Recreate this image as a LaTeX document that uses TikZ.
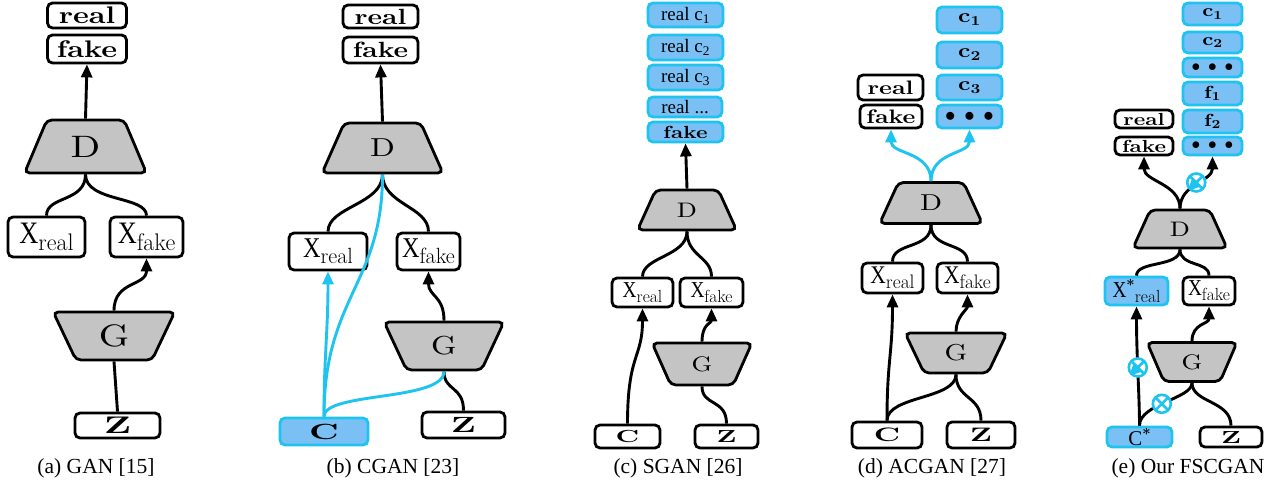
\documentclass[tikz,border=0pt]{standalone}
\usepackage{fontspec}
\usepackage{graphicx}
\usepackage{tikz}
\usetikzlibrary{shapes.geometric,arrows.meta}
\newfontfamily\lmw{lmroman10}[Extension=.otf, UprightFont=*-regular, BoldFont=*-bold, FakeStretch=1.25]
\newfontfamily\tms{Liberation Serif}
\definecolor{cyline}{RGB}{30,195,240}
\definecolor{cyfill}{RGB}{122,192,245}
\definecolor{netgray}{RGB}{196,196,196}
\newcommand\xlab[1]{\scalebox{1.1}[1.3]{\tms\mdseries X}\raisebox{-.28em}{\rmfamily\mdseries #1}}
\newcommand\xslab[1]{\scalebox{1.1}[1.3]{\tms\mdseries X}\raisebox{.45em}{\scalebox{.85}{\rmfamily *}}\raisebox{-.28em}{\rmfamily\mdseries #1}}
\newcommand\sclab[1]{\scalebox{1.3}[1]{#1}}
\newcommand\bdots{$\bullet$\hspace{.45em}$\bullet$\hspace{.45em}$\bullet$}

\begin{document}
\begin{tikzpicture}[x=1pt,y=1pt,yscale=-1,
  box/.style={draw, line width=2.8pt, rounded corners=5pt, fill=white, inner sep=0pt},
  cbox/.style={box, draw=cyline, fill=cyfill},
  net/.style={trapezium, trapezium angle=68, trapezium stretches=true, draw, line width=2.8pt, rounded corners=5pt, fill=netgray, inner sep=0pt},
  gnet/.style={net, shape border rotate=180},
  wire/.style={line width=2.9pt},
  cwire/.style={wire, cyline},
  arr/.style={wire, -{Triangle[length=13pt,width=11pt]}},
  carr/.style={cwire, -{Triangle[length=13pt,width=11pt]}},
  mult/.style={circle, draw=cyline, fill=white, line width=2.6pt, minimum size=18pt, inner sep=0pt,
    path picture={\draw[cyline, line width=2.6pt] (path picture bounding box.north west) -- (path picture bounding box.south east) (path picture bounding box.north east) -- (path picture bounding box.south west);}},
  pa/.style={font=\lmw\bfseries\fontsize{24}{24}\selectfont},
  pb/.style={font=\lmw\bfseries\fontsize{22}{22}\selectfont},
  pc/.style={font=\lmw\bfseries\fontsize{17.5}{17.5}\selectfont},
  pcT/.style={font=\tms\fontsize{19}{19}\selectfont},
  pd/.style={font=\lmw\bfseries\fontsize{19.5}{19.5}\selectfont},
  pe/.style={font=\lmw\bfseries\fontsize{17.5}{17.5}\selectfont},
  na/.style={font=\lmw\fontsize{31}{31}\selectfont},
  nb/.style={font=\lmw\fontsize{26}{26}\selectfont},
  nc/.style={font=\lmw\fontsize{21}{21}\selectfont},
  nd/.style={font=\lmw\fontsize{23}{23}\selectfont},
  ne/.style={font=\lmw\fontsize{21}{21}\selectfont},
  captext/.style={font=\tms\fontsize{21.5}{21.5}\selectfont}
]
\useasboundingbox (0,0) rectangle (1270,486);

%(a) GAN
\node[box, pa, minimum width=79pt, minimum height=25pt] (ra) at (87,15.5) {real};
\node[box, pa, minimum width=79pt, minimum height=28pt] (fa) at (87,49) {fake};
\node[net, na, minimum width=122pt, minimum height=53pt] (Da) at (85.5,146.5) {D};
\node[box, pa, minimum width=77pt, minimum height=40pt] (xra) at (46.5,237) {\xlab{real}};
\node[box, pa, minimum width=73pt, minimum height=40pt] (xfa) at (146.5,237) {\xlab{fake}};
\node[gnet, na, minimum width=122pt, minimum height=48pt] (Ga) at (114,336) {G};
\node[box, pa, minimum width=85pt, minimum height=25pt] (za) at (117.5,425.5) {\sclab{Z}};
\node[captext] (capa) at (96,468) {(a) GAN [15]};

\draw[arr] (Da.north) -- (fa.south);
\draw[wire] (Da.south) .. controls +(0,28) and +(0,-20) .. (xra.north);
\draw[wire] (Da.south) .. controls +(0,28) and +(0,-20) .. (xfa.north);
\draw[arr] (Ga.north) .. controls +(0,-30) and +(0,28) .. (xfa.south);
\draw[wire] (za.north) -- (Ga.south);

%(b) CGAN
\node[box, pb, minimum width=75pt, minimum height=23pt] (rb) at (380.5,16.5) {real};
\node[box, pb, minimum width=75pt, minimum height=26pt] (fb) at (380.5,50) {fake};
\node[net, nb, minimum width=121pt, minimum height=50pt] (Db) at (382.5,148) {D};
\node[box, pb, minimum width=78pt, minimum height=37pt] (xrb) at (328,251.5) {\xlab{real}};
\node[box, pb, minimum width=63pt, minimum height=37pt] (xfb) at (428.5,251.5) {\xlab{fake}};
\node[gnet, nb, minimum width=120pt, minimum height=48pt] (Gb) at (444,346) {G};
\node[box, pb, minimum width=83pt, minimum height=26pt] (zb) at (463.5,425) {\sclab{Z}};
\node[cbox, pb, minimum width=88pt, minimum height=27pt] (cb) at (324,431.5) {\sclab{C}};
\node[captext] (capb) at (393,468) {(b) CGAN [23]};

\draw[arr] (Db.north) -- (fb.south);
\draw[wire] (Db.south) .. controls +(0,30) and +(0,-25) .. (xrb.north);
\draw[wire] (Db.south) .. controls +(0,30) and +(0,-25) .. (xfb.north);
\draw[arr] (Gb.north) .. controls +(0,-25) and +(0,25) .. (xfb.south);
\draw[wire] (zb.north) .. controls +(0,-25) and +(0,20) .. (Gb.south);
\draw[carr] (cb.north) .. controls +(0,-60) and +(0,60) .. (xrb.south);
\draw[cwire] (cb.north) .. controls +(0,-120) and +(0,110) .. (Db.south);
\draw[cwire] (cb.north) .. controls +(0,-25) and +(0,30) .. (Gb.south);

%(c) SGAN
\node[cbox, pcT, minimum width=75pt, minimum height=24pt] (rc1) at (685.5,15) {real c\textsubscript{1}};
\node[cbox, pcT, minimum width=75pt, minimum height=25pt] (rc2) at (685.5,47.5) {real c\textsubscript{2}};
\node[cbox, pcT, minimum width=75pt, minimum height=25pt] (rc3) at (685.5,77.5) {real c\textsubscript{3}};
\node[cbox, pcT, minimum width=74pt, minimum height=20pt] (rc4) at (685,107) {real ...};
\node[cbox, pc, minimum width=75pt, minimum height=20pt] (fc) at (685.5,132) {fake};
\node[net, nc, minimum width=99pt, minimum height=40pt] (Dc) at (687,210) {D};
\node[box, pc, minimum width=61pt, minimum height=29pt] (xrc) at (642.5,292.5) {\xlab{real}};
\node[box, pc, minimum width=63pt, minimum height=29pt] (xfc) at (711.5,292.5) {\xlab{fake}};
\node[gnet, nc, minimum width=100pt, minimum height=42pt] (Gc) at (702,364) {G};
\node[box, pc, minimum width=65pt, minimum height=23pt] (cc) at (627.5,436.5) {\sclab{C}};
\node[box, pc, minimum width=63pt, minimum height=23pt] (zc) at (726.5,436.5) {\sclab{Z}};
\node[captext] (capc) at (678,468) {(c) SGAN [26]};

\draw[arr] (Dc.north) -- (fc.south);
\draw[wire] (Dc.south) .. controls +(0,25) and +(0,-20) .. (xrc.north);
\draw[wire] (Dc.south) .. controls +(0,25) and +(0,-20) .. (xfc.north);
\draw[arr] (cc.north) .. controls +(0,-70) and +(0,50) .. (xrc.south);
\draw[arr] (Gc.north) .. controls +(0,-18) and +(0,15) .. (xfc.south);
\draw[wire] (zc.north) .. controls +(0,-25) and +(0,20) .. (Gc.south);

%(d) ACGAN
\node[cbox, pd, minimum width=65pt, minimum height=26pt] (c1d) at (969.5,20) {c\textsubscript{1}};
\node[cbox, pd, minimum width=65pt, minimum height=26pt] (c2d) at (969.5,55) {c\textsubscript{2}};
\node[cbox, pd, minimum width=65pt, minimum height=25pt] (c3d) at (969.5,87.5) {c\textsubscript{3}};
\node[cbox, pd, minimum width=65pt, minimum height=23pt] (dd) at (969.5,116.5) {\bdots};
\node[box, pd, minimum width=65pt, minimum height=25pt] (rd) at (890.5,87.5) {real};
\node[box, pd, minimum width=62pt, minimum height=23pt] (fd) at (891,116.5) {fake};
\node[net, nd, minimum width=103pt, minimum height=41pt] (Dd) at (931,203) {D};
\node[box, pd, minimum width=61pt, minimum height=30pt] (xrd) at (892.5,278) {\xlab{real}};
\node[box, pd, minimum width=61pt, minimum height=30pt] (xfd) at (967.5,278) {\xlab{fake}};
\node[gnet, nd, minimum width=102pt, minimum height=40pt] (Gd) at (956,353) {G};
\node[box, pd, minimum width=70pt, minimum height=26pt] (cd) at (887,435) {\sclab{C}};
\node[box, pd, minimum width=68pt, minimum height=26pt] (zd) at (981,435) {\sclab{Z}};
\node[captext] (capd) at (932,468) {(d) ACGAN [27]};

\draw[carr] (Dd.north) .. controls +(0,-30) and +(0,25) .. (fd.south);
\draw[carr] (Dd.north) .. controls +(0,-30) and +(0,25) .. (dd.south);
\draw[wire] (Dd.south) .. controls +(0,25) and +(0,-20) .. (xrd.north);
\draw[wire] (Dd.south) .. controls +(0,25) and +(0,-20) .. (xfd.north);
\draw[arr] (cd.north) .. controls +(0,-60) and +(0,60) .. (xrd.south);
\draw[wire] (cd.north) .. controls +(0,-25) and +(0,25) .. (Gd.south);
\draw[wire] (zd.north) .. controls +(0,-25) and +(0,25) .. (Gd.south);
\draw[arr] (Gd.north) .. controls +(0,-15) and +(0,15) .. (xfd.south);

%(e) FSCGAN
\node[cbox, pe, minimum width=59pt, minimum height=22pt] (c1e) at (1212.5,14) {c\textsubscript{1}};
\node[cbox, pe, minimum width=59pt, minimum height=21pt] (c2e) at (1212.5,42.5) {c\textsubscript{2}};
\node[cbox, pe, minimum width=59pt, minimum height=19pt] (d1e) at (1212.5,67.5) {\bdots};
\node[cbox, pe, minimum width=59pt, minimum height=23pt] (f1e) at (1212.5,93.5) {f\textsubscript{1}};
\node[cbox, pe, minimum width=59pt, minimum height=23pt] (f2e) at (1212.5,121.5) {f\textsubscript{2}};
\node[cbox, pe, minimum width=59pt, minimum height=18pt] (d2e) at (1212.5,146) {\bdots};
\node[box, pe, minimum width=58pt, minimum height=18pt] (re) at (1144,119) {real};
\node[box, pe, minimum width=58pt, minimum height=18pt] (fe) at (1144,146) {fake};
\node[net, ne, minimum width=94pt, minimum height=38pt] (De) at (1180,229) {D};
\node[cbox, pe, minimum width=63pt, minimum height=28pt] (xse) at (1136.5,291) {\xslab{real}};
\node[box, pe, minimum width=52pt, minimum height=28pt] (xfe) at (1209,291) {\xlab{fake}};
\node[gnet, ne, minimum width=90pt, minimum height=39pt] (Ge) at (1192,362) {G};
\node[cbox, pe, minimum width=65pt, minimum height=20pt] (cse) at (1139.5,437) {\scalebox{1.2}{\tms\mdseries C}\raisebox{.35em}{\scalebox{.85}{\rmfamily *}}};
\node[box, pe, minimum width=62pt, minimum height=20pt] (ze) at (1231,437) {\sclab{Z}};
\node[captext] (cape) at (1188,468) {(e) Our FSCGAN};

\draw[arr] (De.north) .. controls +(0,-25) and +(0,25) .. (fe.south);
\draw[arr] (De.north) .. controls +(0,-25) and +(0,25) .. node[mult, pos=.5] (me3) {} (d2e.south);
\draw[wire] (De.south) .. controls +(0,18) and +(0,-15) .. (xse.north);
\draw[wire] (De.south) .. controls +(0,18) and +(0,-15) .. (xfe.north);
\draw[arr] (Ge.north) .. controls +(0,-18) and +(0,18) .. (xfe.south);
\draw[wire] (ze.north) .. controls +(0,-25) and +(0,20) .. (Ge.south);
\draw[arr] (cse.north) .. controls +(0,-30) and +(0,50) .. node[mult, pos=.55] (me1) {} (xse.south);
\draw[wire] (cse.north) .. controls +(0,-22) and +(0,16) .. node[mult, pos=.45] (me2) {} (Ge.south);

\end{tikzpicture}
\end{document}
